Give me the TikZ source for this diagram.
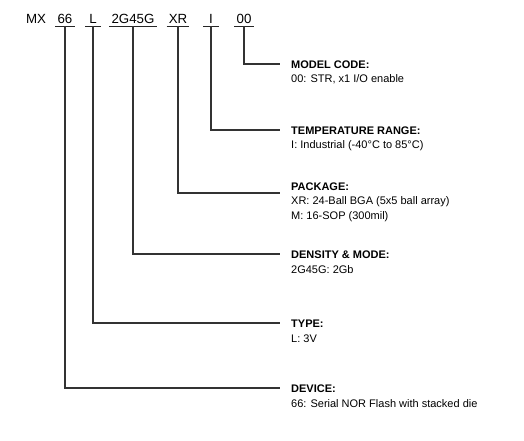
\documentclass[tikz,border=0pt]{standalone}
\usepackage{fontspec}
\setmainfont{Liberation Sans}
\begin{document}
\begin{tikzpicture}[x=1pt,y=-1pt,
  code/.style={font=\fontsize{13.3}{15}\selectfont, inner xsep=2.2pt, inner ysep=3pt, text depth=0pt, outer sep=0pt, minimum width=16pt, anchor=base},
  ttl/.style={font=\fontsize{11}{13}\selectfont\bfseries, inner sep=0pt, anchor=base west},
  dsc/.style={font=\fontsize{11}{13}\selectfont, inner sep=0pt, anchor=base west},
  ul/.style={line width=0.9pt, draw=black!85},
  conn/.style={line width=1.1pt, draw=black!80}]
\useasboundingbox (0,0) rectangle (524,440);
% part number fields
\node[code] (mx) at (36,23) {MX};
\node[code] (c66) at (65,23) {66};
\node[code] (cL) at (93,23) {L};
\node[code] (cden) at (133,23) {2G45G};
\node[code] (cpk) at (178,23) {XR};
\node[code] (cI) at (211,23) {I};
\node[code] (c00) at (244,23) {00};
\foreach \n in {c66,cL,cden,cpk,cI,c00}
  \draw[ul] (\n.south west) -- (\n.south east);
% connector ends
\coordinate (e1) at (280,64);
\coordinate (e2) at (280,130);
\coordinate (e3) at (280,193);
\coordinate (e4) at (280,254);
\coordinate (e5) at (280,323);
\coordinate (e6) at (280,388);
\draw[conn] (c00.south) |- (e1);
\draw[conn] (cI.south) |- (e2);
\draw[conn] (cpk.south) |- (e3);
\draw[conn] (cden.south) |- (e4);
\draw[conn] (cL.south) |- (e5);
\draw[conn] (c66.south) |- (e6);
% labels
\node[ttl] (t1) at (291,68) {MODEL CODE:};
\node[dsc] (d1) at (291,82.5) {00: STR, x1 I/O enable};
\node[ttl] (t2) at (291,134) {TEMPERATURE RANGE:};
\node[dsc] (d2) at (291,148) {I: Industrial (-40°C to 85°C)};
\node[ttl] (t3) at (291,190.5) {PACKAGE:};
\node[dsc] (d3a) at (291,204) {XR: 24-Ball BGA (5x5 ball array)};
\node[dsc] (d3b) at (291,219) {M: 16-SOP (300mil)};
\node[ttl] (t4) at (291,258) {DENSITY \& MODE:};
\node[dsc] (d4) at (291,273) {2G45G: 2Gb};
\node[ttl] (t5) at (291,327) {TYPE:};
\node[dsc] (d5) at (291,342.5) {L: 3V};
\node[ttl] (t6) at (291,392.5) {DEVICE:};
\node[dsc] (d6) at (291,407.5) {66: Serial NOR Flash with stacked die};
\end{tikzpicture}
\end{document}
